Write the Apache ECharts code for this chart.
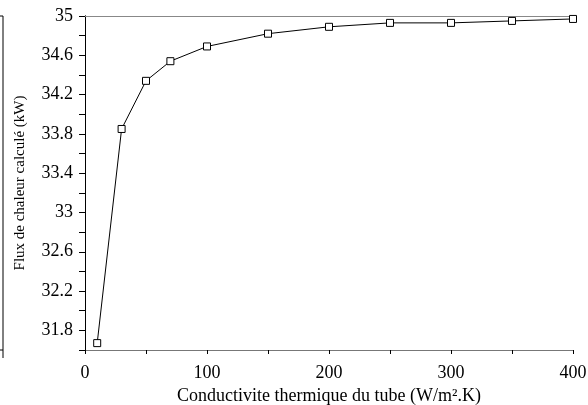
<!DOCTYPE html>
<html><head><meta charset="utf-8">
<script src="https://cdn.jsdelivr.net/npm/echarts@6/dist/echarts.min.js"></script>
<style>html,body{margin:0;padding:0;background:#fff}#c{width:588px;height:405px}</style>
</head><body><div id="c"></div>
<script>
var conductivity = [10, 30, 50, 70, 100, 150, 200, 250, 300, 350, 400];
var heatFlux = [31.67, 33.85, 34.34, 34.54, 34.69, 34.82, 34.89, 34.93, 34.93, 34.95, 34.97];
var yLabels = ['31.8', '32.2', '32.6', '33', '33.4', '33.8', '34.2', '34.6', '35'];
var xLabels = ['0', '100', '200', '300', '400'];

var font = '"Liberation Serif", "Times New Roman", serif';
var chart = echarts.init(document.getElementById('c'));
chart.setOption({
  animation: false,
  grid: {left: 85, right: 15, top: 16, bottom: 55, outerBoundsMode: 'none', containLabel: false},
  xAxis: [{
    type: 'value', min: 0, max: 400, interval: 50,
    axisLine: {lineStyle: {color: '#777', width: 1}},
    axisTick: {show: true, length: 4, lineStyle: {color: '#000'}},
    splitLine: {show: false},
    axisLabel: {
      color: '#000', fontFamily: font, fontSize: 18, margin: 14,
      formatter: function (v) { var s = String(v); return xLabels.indexOf(s) >= 0 ? s : ''; }
    },
    name: 'Conductivite thermique du tube (W/m².K)',
    nameLocation: 'middle', nameGap: 36,
    nameTextStyle: {color: '#000', fontFamily: font, fontSize: 18}
  }, {
    type: 'value', position: 'top', min: 0, max: 400,
    axisLine: {show: true, lineStyle: {color: '#888'}},
    axisTick: {show: false}, axisLabel: {show: false}, splitLine: {show: false}
  }],
  yAxis: [{
    type: 'value', min: 31.6, max: 35, interval: 0.2,
    axisLine: {show: true, lineStyle: {color: '#000', width: 1}},
    axisTick: {show: true, length: 6, lineStyle: {color: '#000'}},
    splitLine: {show: false},
    axisLabel: {
      color: '#000', fontFamily: font, fontSize: 18, margin: 12,
      formatter: function (v) { var s = String(Math.round(v * 10) / 10); return yLabels.indexOf(s) >= 0 ? s : ''; }
    },
    name: 'Flux de chaleur calculé (kW)',
    nameLocation: 'middle', nameGap: 57, nameRotate: 90,
    nameTextStyle: {color: '#000', fontFamily: font, fontSize: 15}
  }, {
    type: 'value', position: 'right', min: 31.6, max: 35,
    axisLine: {show: true, lineStyle: {color: '#000'}},
    axisTick: {show: false}, axisLabel: {show: false}, splitLine: {show: false}
  }],
  graphic: [{
    type: 'polyline', silent: true,
    shape: {points: [[0, 16], [3, 16], [3, 358]]},
    style: {stroke: '#000', lineWidth: 1, fill: null}
  }, {
    type: 'line', silent: true,
    shape: {x1: 0, y1: 350, x2: 3, y2: 350},
    style: {stroke: '#000', lineWidth: 1}
  }],
  series: [{
    type: 'line',
    data: conductivity.map(function (x, i) { return [x, heatFlux[i]]; }),
    symbol: 'rect', symbolSize: 7,
    itemStyle: {color: '#fff', borderColor: '#000', borderWidth: 1},
    lineStyle: {color: '#000', width: 1}
  }]
});
</script></body></html>
